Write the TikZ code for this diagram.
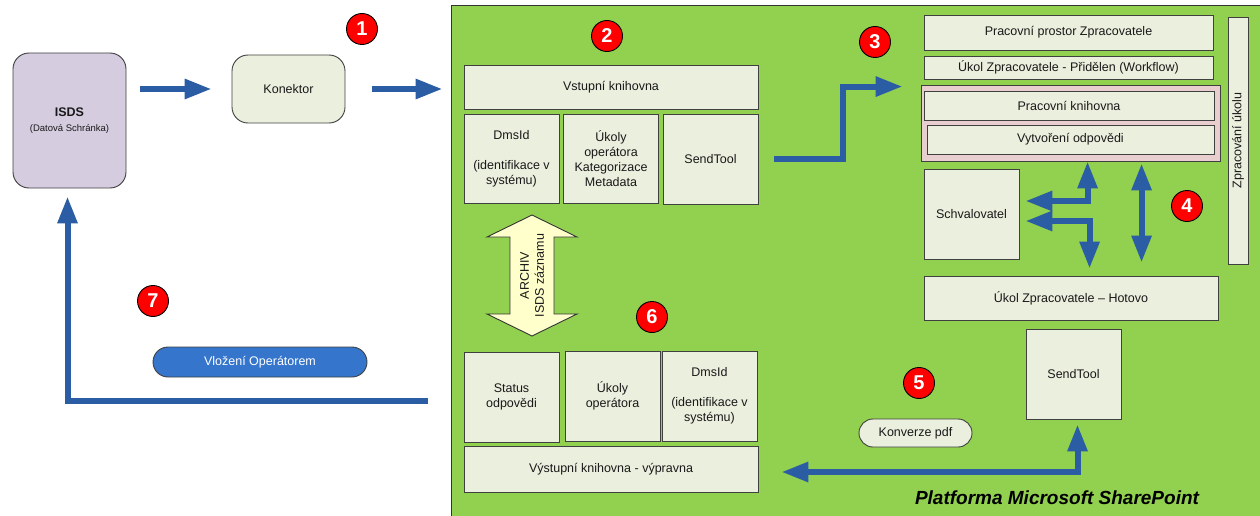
\documentclass[tikz,border=0pt]{standalone}
\usepackage{fontspec}
\setmainfont{Liberation Sans}
\usetikzlibrary{arrows.meta}
\definecolor{panelgreen}{RGB}{146,208,80}
\definecolor{boxfill}{RGB}{235,239,222}
\definecolor{flowblue}{RGB}{43,93,165}
\definecolor{isdsfill}{RGB}{213,204,224}
\definecolor{pinkfill}{RGB}{232,206,206}
\definecolor{pillblue}{RGB}{53,117,204}
\definecolor{archivfill}{RGB}{255,255,204}
\tikzset{
	box/.style={draw=black!75, fill=boxfill, text=black!90, shape=rectangle, align=center, inner sep=0pt, line width=0.9pt, font=\fontsize{12.5}{15}\selectfont},
	badge/.style={draw=black, fill=red, text=white, shape=circle, minimum size=31pt, inner sep=0pt, line width=0.9pt, font=\fontsize{20}{20}\selectfont\bfseries},
	flow/.style={draw=flowblue, line width=6pt, -{Triangle[length=27pt,width=19pt]}},
	dflow/.style={flow, {Triangle[length=27pt,width=19pt]}-{Triangle[length=27pt,width=19pt]}},
}
\begin{document}
\begin{tikzpicture}[x=1pt, y=-1pt]
						\useasboundingbox (0,0) rectangle (1260,516);
						\node[draw=black!80, fill=panelgreen, shape=rectangle, line width=1pt, minimum width=811pt, minimum height=514pt] (platforma) at (856.5,263) {};

						\node[box, fill=isdsfill, rounded corners=16pt, minimum width=113pt, minimum height=135pt] (isds) at (69.5,120.5) {{\bfseries ISDS}\\{\fontsize{9.5}{12}\selectfont (Datová Schránka)}};
						\node[box, rounded corners=16pt, minimum width=113pt, minimum height=68pt] (konektor) at (288.5,89) {Konektor};
						\node[box, fill=pillblue, text=white, rounded corners=15pt, minimum width=214pt, minimum height=30pt] (vlozeni) at (260,362) {Vložení Operátorem};

						\node[box, minimum width=294pt, minimum height=44pt] (vstupni) at (611,87) {Vstupní knihovna};
						\node[box, minimum width=95pt, minimum height=89pt] (dmsid_in) at (511.5,158.5) {DmsId\\[15pt](identifikace v\\systému)};
						\node[box, minimum width=95pt, minimum height=89pt] (ukoly_in) at (611,158.5) {Úkoly\\operátora\\Kategorizace\\Metadata};
						\node[box, minimum width=95pt, minimum height=90pt] (sendtool_in) at (710.5,159) {SendTool};

						\node[box, minimum width=95pt, minimum height=90pt] (status) at (511.5,397) {Status\\odpovědi};
						\node[box, minimum width=95pt, minimum height=90pt] (ukoly_out) at (612.5,396) {Úkoly\\operátora};
						\node[box, minimum width=95pt, minimum height=90pt] (dmsid_out) at (709.5,396) {DmsId\\[15pt](identifikace v\\systému)};
						\node[box, minimum width=294pt, minimum height=46pt] (vystupni) at (611,469) {Výstupní knihovna - výpravna};

						\node[box, minimum width=289pt, minimum height=35pt] (prostor) at (1068.5,32.5) {Pracovní prostor Zpracovatele};
						\node[box, minimum width=289pt, minimum height=23pt] (prideleni) at (1068.5,67.5) {Úkol Zpracovatele - Přidělen (Workflow)};
						\node[box, fill=pinkfill, minimum width=299pt, minimum height=76pt] (pracovni) at (1070.5,123) {};
						\node[box, minimum width=290pt, minimum height=29pt] (knihovna) at (1069,105.5) {Pracovní knihovna};
						\node[box, minimum width=287pt, minimum height=29pt] (odpoved) at (1070.5,139.5) {Vytvoření odpovědi};
						\node[box, minimum width=95pt, minimum height=90pt] (schvalovatel) at (971.5,214) {Schvalovatel};
						\node[box, rotate=90, minimum width=247pt, minimum height=20pt] (zpracovani) at (1238,140.5) {Zpracování úkolu};
						\node[box, minimum width=294pt, minimum height=44pt] (hotovo) at (1071,298) {Úkol Zpracovatele – Hotovo};
						\node[box, minimum width=95pt, minimum height=90pt] (sendtool_out) at (1073.5,374) {SendTool};
						\node[box, rounded corners=14pt, minimum width=113pt, minimum height=28pt] (konverze) at (915.5,433) {Konverze pdf};

						\filldraw[fill=archivfill, draw=black!80, line width=0.9pt] (532,215) -- (577,237) -- (554,237) -- (554,314) -- (577,314) -- (532,336) -- (487,314) -- (510,314) -- (510,237) -- (487,237) -- cycle;
						\node[rotate=90, align=center, text=black!90, font=\fontsize{12.5}{15}\selectfont] (archiv) at (532,275.5) {ARCHIV\\ISDS záznamu};

						\node[badge] (b_1) at (362,29) {1};
						\node[badge] (b_2) at (607,36) {2};
						\node[badge] (b_3) at (875,42) {3};
						\node[badge] (b_4) at (1187,206) {4};
						\node[badge] (b_5) at (919,383) {5};
						\node[badge] (b_6) at (652,317) {6};
						\node[badge] (b_7) at (153,301) {7};

						\node[font=\fontsize{19}{23}\selectfont\bfseries\itshape] (platforma_txt) at (1057,498) {Platforma Microsoft SharePoint};

						\draw[flow] ([xshift=14pt]isds.east |- konektor.west) -- ([xshift=-20pt]konektor.west);
						\draw[flow] ([xshift=27pt]konektor.east) -- ([xshift=-8pt]platforma.west |- konektor.east);
						\draw[flow] ([xshift=16pt]sendtool_in.east) -- ++(69,0) |- ([xshift=-18pt,yshift=-2pt]pracovni.north west);
						\draw[dflow] ([xshift=6pt,yshift=13pt]schvalovatel.east) -| ([xshift=167pt]pracovni.south west);
						\draw[dflow] ([xshift=6pt,yshift=-7pt]schvalovatel.east) -| ([xshift=166pt,yshift=7pt]hotovo.north west);
						\draw[dflow] ([xshift=221pt,yshift=-2pt]pracovni.south west) -- ([xshift=218pt,yshift=13pt]hotovo.north west);
						\draw[dflow] ([xshift=4pt,yshift=-5pt]sendtool_out.south) |- ([xshift=23pt,yshift=-3pt]vystupni.east);
						\coordinate (navrat) at (428,401);
						\draw[flow] (navrat) -| ([xshift=-2pt,yshift=-8pt]isds.south);
					\end{tikzpicture}
\end{document}
